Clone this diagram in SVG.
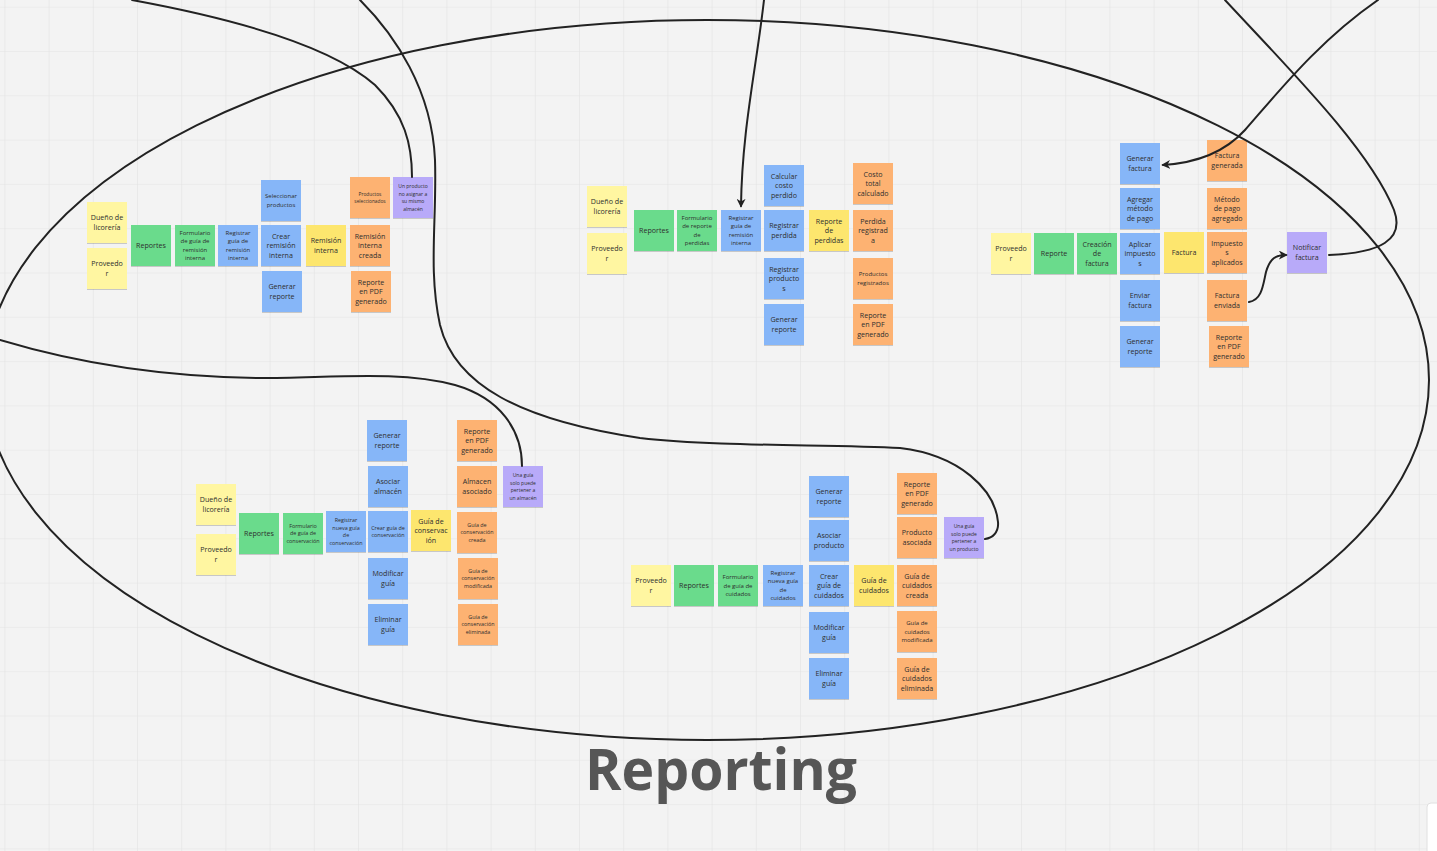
<svg xmlns="http://www.w3.org/2000/svg" width="1437" height="851" viewBox="0 0 1437 851">
<style>
.bg{fill:#f3f3f3}
.n{stroke:none;filter:url(#sh)}
.yl{fill:#fff6a1}.gr{fill:#6bdb8c}.bl{fill:#86b6f8}.ys{fill:#fde66e}.or{fill:#fdb272}.pu{fill:#b8aaf9}
text{font-family:"Open Sans","Noto Sans","Liberation Sans",sans-serif;fill:#2e2e2e;text-anchor:middle}
.a{font-size:7.1px}.b{font-size:6px}.c{font-size:5.4px}.d{font-size:4.8px}.p{font-size:5px}
.ln{fill:none;stroke:#222;stroke-width:2;stroke-linecap:round}
.title{font-size:57px;font-weight:700;fill:#565656}
</style>
<defs>
<pattern id="grid" patternUnits="userSpaceOnUse" x="4.4" y="6.7" width="44.2" height="44.3">
<path d="M0,0 H44.2 M0,0 V44.3" stroke="#e3e3e3" stroke-width="1.2" fill="none"/>
</pattern>
<filter id="sh" x="-10%" y="-10%" width="120%" height="130%">
<feDropShadow dx="0" dy="1" stdDeviation="0.7" flood-color="#000" flood-opacity="0.18"/>
</filter>
<marker id="ar" viewBox="0 0 10 10" refX="8" refY="5" markerWidth="9" markerHeight="9" markerUnits="userSpaceOnUse" orient="auto">
<path d="M0,0 L10,5 L0,10 L3,5 z" fill="#222"/>
</marker>
</defs>
<rect class="bg" x="0" y="0" width="1437" height="851"/>
<rect x="0" y="0" width="1437" height="851" fill="url(#grid)"/>

<g id="c1-owner"><rect class="n yl" x="87" y="202" width="40" height="41"/><text class="a"><tspan x="107" y="220.35">Dueño de</tspan><tspan x="107" y="229.85">licorería</tspan></text></g>
<g id="c1-prov"><rect class="n yl" x="87" y="248" width="40" height="41"/><text class="a"><tspan x="107" y="266.35">Proveedo</tspan><tspan x="107" y="275.85">r</tspan></text></g>
<g id="c1-rep"><rect class="n gr" x="131" y="225" width="40" height="41"/><text class="a"><tspan x="151" y="248.1">Reportes</tspan></text></g>
<g id="c1-form"><rect class="n gr" x="175" y="225" width="40" height="41"/><text class="b"><tspan x="195" y="234.95">Formulario</tspan><tspan x="195" y="243.45">de guía de</tspan><tspan x="195" y="251.95">remisión</tspan><tspan x="195" y="260.45">interna</tspan></text></g>
<g id="c1-reg"><rect class="n bl" x="218" y="225" width="40" height="41"/><text class="b"><tspan x="238" y="234.95">Registrar</tspan><tspan x="238" y="243.45">guía de</tspan><tspan x="238" y="251.95">remisión</tspan><tspan x="238" y="260.45">interna</tspan></text></g>
<g id="c1-sel"><rect class="n bl" x="261" y="180" width="40" height="41"/><text class="b"><tspan x="281" y="198.45">Seleccionar</tspan><tspan x="281" y="206.95">productos</tspan></text></g>
<g id="c1-crear"><rect class="n bl" x="261" y="225" width="40" height="41"/><text class="a"><tspan x="281" y="238.6">Crear</tspan><tspan x="281" y="248.1">remisión</tspan><tspan x="281" y="257.6">interna</tspan></text></g>
<g id="c1-gen"><rect class="n bl" x="262" y="271" width="40" height="41"/><text class="a"><tspan x="282" y="289.35">Generar</tspan><tspan x="282" y="298.85">reporte</tspan></text></g>
<g id="c1-rem"><rect class="n ys" x="306" y="225" width="40" height="41"/><text class="a"><tspan x="326" y="243.35">Remisión</tspan><tspan x="326" y="252.85">interna</tspan></text></g>
<g id="c1-prodsel"><rect class="n or" x="350" y="177" width="40" height="41"/><text class="d"><tspan x="370" y="195.7">Productos</tspan><tspan x="370" y="202.7">seleccionados</tspan></text></g>
<g id="c1-remcr"><rect class="n or" x="350" y="225" width="40" height="41"/><text class="a"><tspan x="370" y="238.6">Remisión</tspan><tspan x="370" y="248.1">interna</tspan><tspan x="370" y="257.6">creada</tspan></text></g>
<g id="c1-pdf"><rect class="n or" x="351" y="271" width="40" height="41"/><text class="a"><tspan x="371" y="284.6">Reporte</tspan><tspan x="371" y="294.1">en PDF</tspan><tspan x="371" y="303.6">generado</tspan></text></g>
<g id="c1-note"><rect class="n pu" x="393" y="177" width="40" height="41"/><text class="p"><tspan x="413" y="188.05">Un producto</tspan><tspan x="413" y="195.55">no asignar a</tspan><tspan x="413" y="203.05">su mismo</tspan><tspan x="413" y="210.55">almacén</tspan></text></g>

<g id="c2-owner"><rect class="n yl" x="587" y="186" width="40" height="41"/><text class="a"><tspan x="607" y="204.35">Dueño de</tspan><tspan x="607" y="213.85">licorería</tspan></text></g>
<g id="c2-prov"><rect class="n yl" x="587" y="233" width="40" height="41"/><text class="a"><tspan x="607" y="251.35">Proveedo</tspan><tspan x="607" y="260.85">r</tspan></text></g>
<g id="c2-rep"><rect class="n gr" x="634" y="210" width="40" height="41"/><text class="a"><tspan x="654" y="233.1">Reportes</tspan></text></g>
<g id="c2-form"><rect class="n gr" x="677" y="210" width="40" height="41"/><text class="b"><tspan x="697" y="219.95">Formulario</tspan><tspan x="697" y="228.45">de reporte</tspan><tspan x="697" y="236.95">de</tspan><tspan x="697" y="245.45">perdidas</tspan></text></g>
<g id="c2-reg"><rect class="n bl" x="721" y="210" width="40" height="41"/><text class="b"><tspan x="741" y="219.95">Registrar</tspan><tspan x="741" y="228.45">guía de</tspan><tspan x="741" y="236.95">remisión</tspan><tspan x="741" y="245.45">interna</tspan></text></g>
<g id="c2-calc"><rect class="n bl" x="764" y="165" width="40" height="41"/><text class="a"><tspan x="784" y="178.6">Calcular</tspan><tspan x="784" y="188.1">costo</tspan><tspan x="784" y="197.6">perdido</tspan></text></g>
<g id="c2-regp"><rect class="n bl" x="764" y="210" width="40" height="41"/><text class="a"><tspan x="784" y="228.35">Registrar</tspan><tspan x="784" y="237.85">perdida</tspan></text></g>
<g id="c2-regprod"><rect class="n bl" x="764" y="258" width="40" height="41"/><text class="a"><tspan x="784" y="271.6">Registrar</tspan><tspan x="784" y="281.1">producto</tspan><tspan x="784" y="290.6">s</tspan></text></g>
<g id="c2-gen"><rect class="n bl" x="764" y="304" width="40" height="41"/><text class="a"><tspan x="784" y="322.35">Generar</tspan><tspan x="784" y="331.85">reporte</tspan></text></g>
<g id="c2-repp"><rect class="n ys" x="809" y="210" width="40" height="41"/><text class="a"><tspan x="829" y="223.6">Reporte</tspan><tspan x="829" y="233.1">de</tspan><tspan x="829" y="242.6">perdidas</tspan></text></g>
<g id="c2-costo"><rect class="n or" x="853" y="163" width="40" height="41"/><text class="a"><tspan x="873" y="176.6">Costo</tspan><tspan x="873" y="186.1">total</tspan><tspan x="873" y="195.6">calculado</tspan></text></g>
<g id="c2-perd"><rect class="n or" x="853" y="210" width="40" height="41"/><text class="a"><tspan x="873" y="223.6">Perdida</tspan><tspan x="873" y="233.1">registrad</tspan><tspan x="873" y="242.6">a</tspan></text></g>
<g id="c2-prodreg"><rect class="n or" x="853" y="258" width="40" height="41"/><text class="b"><tspan x="873" y="276.45">Productos</tspan><tspan x="873" y="284.95">registrados</tspan></text></g>
<g id="c2-pdf"><rect class="n or" x="853" y="304" width="40" height="41"/><text class="a"><tspan x="873" y="317.6">Reporte</tspan><tspan x="873" y="327.1">en PDF</tspan><tspan x="873" y="336.6">generado</tspan></text></g>

<g id="c3-prov"><rect class="n yl" x="991" y="233" width="40" height="41"/><text class="a"><tspan x="1011" y="251.35">Proveedo</tspan><tspan x="1011" y="260.85">r</tspan></text></g>
<g id="c3-rep"><rect class="n gr" x="1034" y="233" width="40" height="41"/><text class="a"><tspan x="1054" y="256.1">Reporte</tspan></text></g>
<g id="c3-crea"><rect class="n gr" x="1077" y="233" width="40" height="41"/><text class="a"><tspan x="1097" y="246.6">Creación</tspan><tspan x="1097" y="256.1">de</tspan><tspan x="1097" y="265.6">factura</tspan></text></g>
<g id="c3-genf"><rect class="n bl" x="1120" y="143" width="40" height="41"/><text class="a"><tspan x="1140" y="161.35">Generar</tspan><tspan x="1140" y="170.85">factura</tspan></text></g>
<g id="c3-agr"><rect class="n bl" x="1120" y="188" width="40" height="41"/><text class="a"><tspan x="1140" y="201.6">Agregar</tspan><tspan x="1140" y="211.1">método</tspan><tspan x="1140" y="220.6">de pago</tspan></text></g>
<g id="c3-apl"><rect class="n bl" x="1120" y="233" width="40" height="41"/><text class="a"><tspan x="1140" y="246.6">Aplicar</tspan><tspan x="1140" y="256.1">impuesto</tspan><tspan x="1140" y="265.6">s</tspan></text></g>
<g id="c3-env"><rect class="n bl" x="1120" y="280" width="40" height="41"/><text class="a"><tspan x="1140" y="298.35">Enviar</tspan><tspan x="1140" y="307.85">factura</tspan></text></g>
<g id="c3-gen"><rect class="n bl" x="1120" y="326" width="40" height="41"/><text class="a"><tspan x="1140" y="344.35">Generar</tspan><tspan x="1140" y="353.85">reporte</tspan></text></g>
<g id="c3-fac"><rect class="n ys" x="1164" y="232" width="40" height="41"/><text class="a"><tspan x="1184" y="255.1">Factura</tspan></text></g>
<g id="c3-facg"><rect class="n or" x="1207" y="140" width="40" height="41"/><text class="a"><tspan x="1227" y="158.35">Factura</tspan><tspan x="1227" y="167.85">generada</tspan></text></g>
<g id="c3-met"><rect class="n or" x="1207" y="188" width="40" height="41"/><text class="a"><tspan x="1227" y="201.6">Método</tspan><tspan x="1227" y="211.1">de pago</tspan><tspan x="1227" y="220.6">agregado</tspan></text></g>
<g id="c3-imp"><rect class="n or" x="1207" y="232" width="40" height="41"/><text class="a"><tspan x="1227" y="245.6">Impuesto</tspan><tspan x="1227" y="255.1">s</tspan><tspan x="1227" y="264.6">aplicados</tspan></text></g>
<g id="c3-face"><rect class="n or" x="1207" y="280" width="40" height="41"/><text class="a"><tspan x="1227" y="298.35">Factura</tspan><tspan x="1227" y="307.85">enviada</tspan></text></g>
<g id="c3-pdf"><rect class="n or" x="1209" y="326" width="40" height="41"/><text class="a"><tspan x="1229" y="339.6">Reporte</tspan><tspan x="1229" y="349.1">en PDF</tspan><tspan x="1229" y="358.6">generado</tspan></text></g>
<g id="c3-not"><rect class="n pu" x="1287" y="232" width="40" height="41"/><text class="a"><tspan x="1307" y="250.35">Notificar</tspan><tspan x="1307" y="259.85">factura</tspan></text></g>

<g id="c4-owner"><rect class="n yl" x="196" y="484" width="40" height="41"/><text class="a"><tspan x="216" y="502.35">Dueño de</tspan><tspan x="216" y="511.85">licorería</tspan></text></g>
<g id="c4-prov"><rect class="n yl" x="196" y="534" width="40" height="41"/><text class="a"><tspan x="216" y="552.35">Proveedo</tspan><tspan x="216" y="561.85">r</tspan></text></g>
<g id="c4-rep"><rect class="n gr" x="239" y="513" width="40" height="41"/><text class="a"><tspan x="259" y="536.1">Reportes</tspan></text></g>
<g id="c4-form"><rect class="n gr" x="283" y="513" width="40" height="41"/><text class="c"><tspan x="303" y="527.9">Formulario</tspan><tspan x="303" y="535.4">de guía de</tspan><tspan x="303" y="542.9">conservación</tspan></text></g>
<g id="c4-reg"><rect class="n bl" x="326" y="511" width="40" height="41"/><text class="c"><tspan x="346" y="522.15">Registrar</tspan><tspan x="346" y="529.65">nueva guía</tspan><tspan x="346" y="537.15">de</tspan><tspan x="346" y="544.65">conservación</tspan></text></g>
<g id="c4-gen"><rect class="n bl" x="367" y="420" width="40" height="41"/><text class="a"><tspan x="387" y="438.35">Generar</tspan><tspan x="387" y="447.85">reporte</tspan></text></g>
<g id="c4-asoc"><rect class="n bl" x="368" y="466" width="40" height="41"/><text class="a"><tspan x="388" y="484.35">Asociar</tspan><tspan x="388" y="493.85">almacén</tspan></text></g>
<g id="c4-crear"><rect class="n bl" x="368" y="511" width="40" height="41"/><text class="c"><tspan x="388" y="529.65">Crear guía de</tspan><tspan x="388" y="537.15">conservación</tspan></text></g>
<g id="c4-mod"><rect class="n bl" x="368" y="558" width="40" height="41"/><text class="a"><tspan x="388" y="576.35">Modificar</tspan><tspan x="388" y="585.85">guía</tspan></text></g>
<g id="c4-elim"><rect class="n bl" x="368" y="604" width="40" height="41"/><text class="a"><tspan x="388" y="622.35">Eliminar</tspan><tspan x="388" y="631.85">guía</tspan></text></g>
<g id="c4-guia"><rect class="n ys" x="411" y="510" width="40" height="41"/><text class="a"><tspan x="431" y="523.6">Guía de</tspan><tspan x="431" y="533.1">conservac</tspan><tspan x="431" y="542.6">ión</tspan></text></g>
<g id="c4-pdf"><rect class="n or" x="457" y="420" width="40" height="41"/><text class="a"><tspan x="477" y="433.6">Reporte</tspan><tspan x="477" y="443.1">en PDF</tspan><tspan x="477" y="452.6">generado</tspan></text></g>
<g id="c4-alm"><rect class="n or" x="457" y="466" width="40" height="41"/><text class="a"><tspan x="477" y="484.35">Almacen</tspan><tspan x="477" y="493.85">asociado</tspan></text></g>
<g id="c4-cre"><rect class="n or" x="457" y="512" width="40" height="41"/><text class="c"><tspan x="477" y="526.9">Guía de</tspan><tspan x="477" y="534.4">conservación</tspan><tspan x="477" y="541.9">creada</tspan></text></g>
<g id="c4-modi"><rect class="n or" x="458" y="558" width="40" height="41"/><text class="c"><tspan x="478" y="572.9">Guía de</tspan><tspan x="478" y="580.4">conservación</tspan><tspan x="478" y="587.9">modificada</tspan></text></g>
<g id="c4-eli"><rect class="n or" x="458" y="604" width="40" height="41"/><text class="c"><tspan x="478" y="618.9">Guía de</tspan><tspan x="478" y="626.4">conservación</tspan><tspan x="478" y="633.9">eliminada</tspan></text></g>
<g id="c4-note"><rect class="n pu" x="503" y="466" width="40" height="41"/><text class="p"><tspan x="523" y="477.05">Una guía</tspan><tspan x="523" y="484.55">solo puede</tspan><tspan x="523" y="492.05">pertener a</tspan><tspan x="523" y="499.55">un almacén</tspan></text></g>

<g id="c5-prov"><rect class="n yl" x="631" y="565" width="40" height="41"/><text class="a"><tspan x="651" y="583.35">Proveedo</tspan><tspan x="651" y="592.85">r</tspan></text></g>
<g id="c5-rep"><rect class="n gr" x="674" y="565" width="40" height="41"/><text class="a"><tspan x="694" y="588.1">Reportes</tspan></text></g>
<g id="c5-form"><rect class="n gr" x="718" y="565" width="40" height="41"/><text class="b"><tspan x="738" y="579.2">Formulario</tspan><tspan x="738" y="587.7">de guía de</tspan><tspan x="738" y="596.2">cuidados</tspan></text></g>
<g id="c5-reg"><rect class="n bl" x="763" y="565" width="40" height="41"/><text class="b"><tspan x="783" y="574.95">Registrar</tspan><tspan x="783" y="583.45">nueva guía</tspan><tspan x="783" y="591.95">de</tspan><tspan x="783" y="600.45">cuidados</tspan></text></g>
<g id="c5-gen"><rect class="n bl" x="809" y="476" width="40" height="41"/><text class="a"><tspan x="829" y="494.35">Generar</tspan><tspan x="829" y="503.85">reporte</tspan></text></g>
<g id="c5-asoc"><rect class="n bl" x="809" y="520" width="40" height="41"/><text class="a"><tspan x="829" y="538.35">Asociar</tspan><tspan x="829" y="547.85">producto</tspan></text></g>
<g id="c5-crear"><rect class="n bl" x="809" y="565" width="40" height="41"/><text class="a"><tspan x="829" y="578.6">Crear</tspan><tspan x="829" y="588.1">guía de</tspan><tspan x="829" y="597.6">cuidados</tspan></text></g>
<g id="c5-mod"><rect class="n bl" x="809" y="612" width="40" height="41"/><text class="a"><tspan x="829" y="630.35">Modificar</tspan><tspan x="829" y="639.85">guía</tspan></text></g>
<g id="c5-elim"><rect class="n bl" x="809" y="658" width="40" height="41"/><text class="a"><tspan x="829" y="676.35">Eliminar</tspan><tspan x="829" y="685.85">guía</tspan></text></g>
<g id="c5-guia"><rect class="n ys" x="854" y="565" width="40" height="41"/><text class="a"><tspan x="874" y="583.35">Guía de</tspan><tspan x="874" y="592.85">cuidados</tspan></text></g>
<g id="c5-pdf"><rect class="n or" x="897" y="473" width="40" height="41"/><text class="a"><tspan x="917" y="486.6">Reporte</tspan><tspan x="917" y="496.1">en PDF</tspan><tspan x="917" y="505.6">generado</tspan></text></g>
<g id="c5-prod"><rect class="n or" x="897" y="517" width="40" height="41"/><text class="a"><tspan x="917" y="535.35">Producto</tspan><tspan x="917" y="544.85">asociada</tspan></text></g>
<g id="c5-cre"><rect class="n or" x="897" y="565" width="40" height="41"/><text class="a"><tspan x="917" y="578.6">Guía de</tspan><tspan x="917" y="588.1">cuidados</tspan><tspan x="917" y="597.6">creada</tspan></text></g>
<g id="c5-modi"><rect class="n or" x="897" y="611" width="40" height="41"/><text class="b"><tspan x="917" y="625.2">Guía de</tspan><tspan x="917" y="633.7">cuidados</tspan><tspan x="917" y="642.2">modificada</tspan></text></g>
<g id="c5-eli"><rect class="n or" x="897" y="658" width="40" height="41"/><text class="a"><tspan x="917" y="671.6">Guía de</tspan><tspan x="917" y="681.1">cuidados</tspan><tspan x="917" y="690.6">eliminada</tspan></text></g>
<g id="c5-note"><rect class="n pu" x="944" y="517" width="40" height="41"/><text class="p"><tspan x="964" y="528.05">Una guía</tspan><tspan x="964" y="535.55">solo puede</tspan><tspan x="964" y="543.05">pertener a</tspan><tspan x="964" y="550.55">un producto</tspan></text></g>

<g id="connectors">
<ellipse class="ln" cx="707" cy="380" rx="722" ry="360"/>
<path class="ln" d="M132,0 C230,18 330,45 375,85 C405,115 412,145 412,177"/>
<path class="ln" d="M360,0 C395,35 432,90 435,160 C437,220 428,270 440,325 C455,385 520,420 640,438 C720,447 830,444 900,448 C960,455 995,490 998,522 C999,533 992,538 985,539"/>
<path class="ln" d="M0,340 C60,358 150,377 260,378 C330,378 400,370 455,385 C500,398 522,430 522,466"/>
<path class="ln" d="M764,0 C756,70 742,130 741,206" marker-end="url(#ar)"/>
<path class="ln" d="M1378,0 C1320,40 1280,90 1245,130 C1225,152 1195,163 1163,165" marker-end="url(#ar)"/>
<path class="ln" d="M1225,0 C1290,70 1370,150 1394,210 C1405,240 1380,253 1329,255"/>
<path class="ln" d="M1249,302 C1262,300 1263,285 1266,272 C1270,258 1276,255 1286,255" marker-end="url(#ar)"/>
</g>

<text class="title" x="721" y="790" textLength="272" lengthAdjust="spacingAndGlyphs">Reporting</text>
<rect x="1427" y="803" width="20" height="60" rx="4" fill="#ffffff" stroke="#e0e0e0" stroke-width="1"/>
</svg>
